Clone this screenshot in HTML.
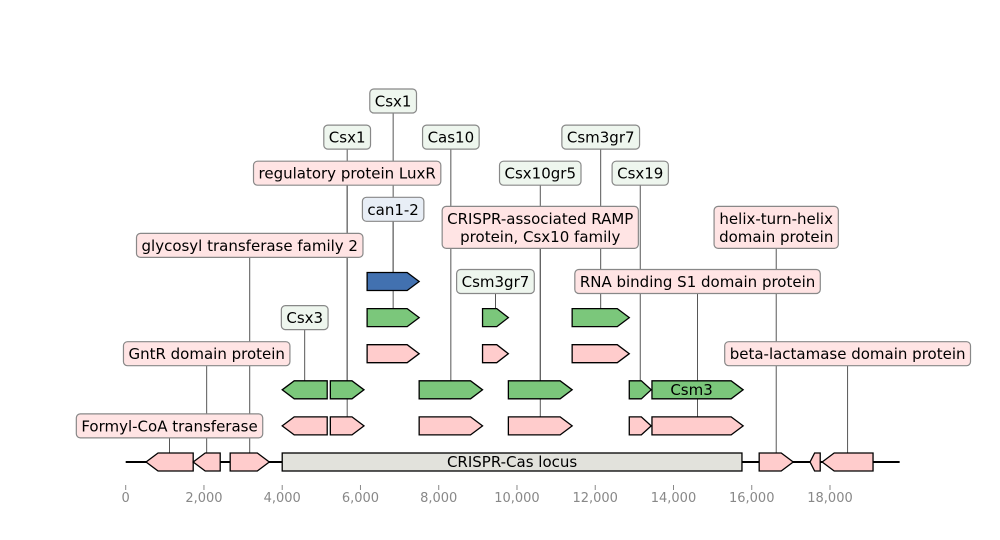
<!DOCTYPE html>
<html><head><meta charset="utf-8"><style>
html,body{margin:0;padding:0;background:#fff;}
svg{display:block;font-family:"DejaVu Sans","Liberation Sans",sans-serif;}
</style></head><body>
<svg id="chart" width="1000" height="540" viewBox="0 0 1000 540" xmlns="http://www.w3.org/2000/svg">
<g id="lines"></g>
<g id="track"></g>
<g id="feats"></g>
<g id="labels"></g>
<g id="axis"></g>
</svg>
<script>
// feature data (bp)
const featStart = [520,1725,2670,16190,17490,17800, 4000,5230,7500,9780,12870,13450, 4000,5230,7500,9780,12870,13450, 6170,9120,11410, 6170,9120,11410, 6170];
const featEnd   = [1725,2415,3670,17060,17750,19100, 5150,6090,9120,11410,13430,15780, 5150,6090,9120,11410,13430,15780, 7500,9780,12870, 7500,9780,12870, 7500];
const featStrand= [-1,-1,1,1,-1,-1, -1,1,1,1,1,1, -1,1,1,1,1,1, 1,1,1, 1,1,1, 1];
const featRow   = [0,0,0,0,0,0, 1,1,1,1,1,1, 2,2,2,2,2,2, 3,3,3, 4,4,4, 5];
const featKind  = ['p','p','p','p','p','p', 'p','p','p','p','p','p', 'g','g','g','g','g','g', 'p','p','p', 'g','g','g', 'b'];
const locusStart = 4000, locusEnd = 15750, trackEnd = 19780;
// labels: text, anchor bp, label level, target row, kind
const labText = ['Formyl-CoA transferase','GntR domain protein','glycosyl transferase family 2','Csx3','regulatory protein LuxR','Csx1','Csx1','can1-2','Cas10','CRISPR-associated RAMP|protein, Csx10 family','Csx10gr5','Csm3gr7','Csm3gr7','RNA binding S1 domain protein','Csx19','helix-turn-helix|domain protein','beta-lactamase domain protein'];
const labBp   = [1120,2070,3170,4575,5660,5660,6835,6835,8310,10595,10595,9450,12140,14615,13150,16625,18450];
const labLevel= [1,3,6,4,8,9,10,7,9,6.5,8,5,9,5,8,6.5,3];
const labRow  = [0,0,0,2,1,2,4,5,2,1,2,4,4,1,2,0,0];
const labKind = ['p','p','p','g','p','g','g','b','g','p','g','g','g','p','g','p','p'];
const tickVals = [0,2000,4000,6000,8000,10000,12000,14000,16000,18000];
const tickLabels = ['0','2,000','4,000','6,000','8,000','10,000','12,000','14,000','16,000','18,000'];

const NS='http://www.w3.org/2000/svg';
const x = bp => 125.7 + bp*704.3/18000;
const y = row => 462 - row*36.1;
const fillOf = {p:'#ffcccc', g:'#7bc77b', b:'#4271b0'};
const boxOf = {p:'#ffe4e4', g:'#eef6ee', b:'#e8eef6'};
function mk(tag, attrs, parent){const e=document.createElementNS(NS,tag);for(const k in attrs)e.setAttribute(k,attrs[k]);parent.appendChild(e);return e;}
const gL=document.getElementById('lines'), gT=document.getElementById('track'), gF=document.getElementById('feats'), gB=document.getElementById('labels'), gA=document.getElementById('axis');

const tl = mk('line',{x1:x(0),x2:x(trackEnd),y1:462,y2:462,stroke:'#000','stroke-width':2},gT);



labText.forEach((t,i)=>{
  const l = mk('line',{x1:x(labBp[i]),x2:x(labBp[i]),y1:y(labLevel[i]),y2:y(labRow[i]),stroke:'#444','stroke-width':0.9},gL);
  
  
});

const lb = mk('rect',{x:x(locusStart),y:453,width:x(locusEnd)-x(locusStart),height:18,fill:'#e2e2dc',stroke:'#000','stroke-width':1.3},gF);


const lt = mk('text',{x:(x(locusStart)+x(locusEnd))/2,y:467,'text-anchor':'middle','font-size':15,fill:'#000'},gF);
lt.textContent='CRISPR-Cas locus';



featStart.forEach((s,i)=>{
  const x0=x(s), x1=x(featEnd[i]), w=x1-x0, cy=y(featRow[i]), h=9;
  const hd=Math.min(12, w*0.45);
  let pts;
  if(featStrand[i]>0) pts=[[x0,cy-h],[x1-hd,cy-h],[x1,cy],[x1-hd,cy+h],[x0,cy+h]];
  else pts=[[x1,cy-h],[x0+hd,cy-h],[x0,cy],[x0+hd,cy+h],[x1,cy+h]];
  const p = mk('polygon',{points:pts.map(q=>q.join(',')).join(' '),fill:fillOf[featKind[i]],stroke:'#000','stroke-width':1.3,'stroke-linejoin':'miter'},gF);
  
  
});
const cs = mk('text',{x:(x(13450)+x(15780))/2-6,y:395,'text-anchor':'middle','font-size':15,fill:'#000'},gF);
cs.textContent='Csm3';



labText.forEach((t,i)=>{
  const lines=t.split('|'); const cx=x(labBp[i]), cy=y(labLevel[i]);
  const g=mk('g',{},gB);
  
  
  const r=mk('rect',{rx:4,ry:4,fill:boxOf[labKind[i]],stroke:'#888','stroke-width':1.2},g);
  const tx=mk('text',{'text-anchor':'middle','font-size':15,fill:'#000'},g);
  lines.forEach((ln,j)=>{const ts=mk('tspan',{x:cx,y:cy+5.5+(j-(lines.length-1)/2)*18},tx);ts.textContent=ln;});
  const bb=tx.getBBox();
  r.setAttribute('x',bb.x-5);r.setAttribute('width',bb.width+10);
  const hh=lines.length*18+6;
  r.setAttribute('y',cy-hh/2);r.setAttribute('height',hh);
});

tickVals.forEach((v,i)=>{
  const t=mk('line',{x1:x(v),x2:x(v),y1:485,y2:490,stroke:'#888','stroke-width':1},gA);
  
  
  const tx=mk('text',{x:x(v),y:502,'text-anchor':'middle','font-size':13,fill:'#888'},gA);
  tx.textContent=tickLabels[i];
  
  
});
</script>
</body></html>
